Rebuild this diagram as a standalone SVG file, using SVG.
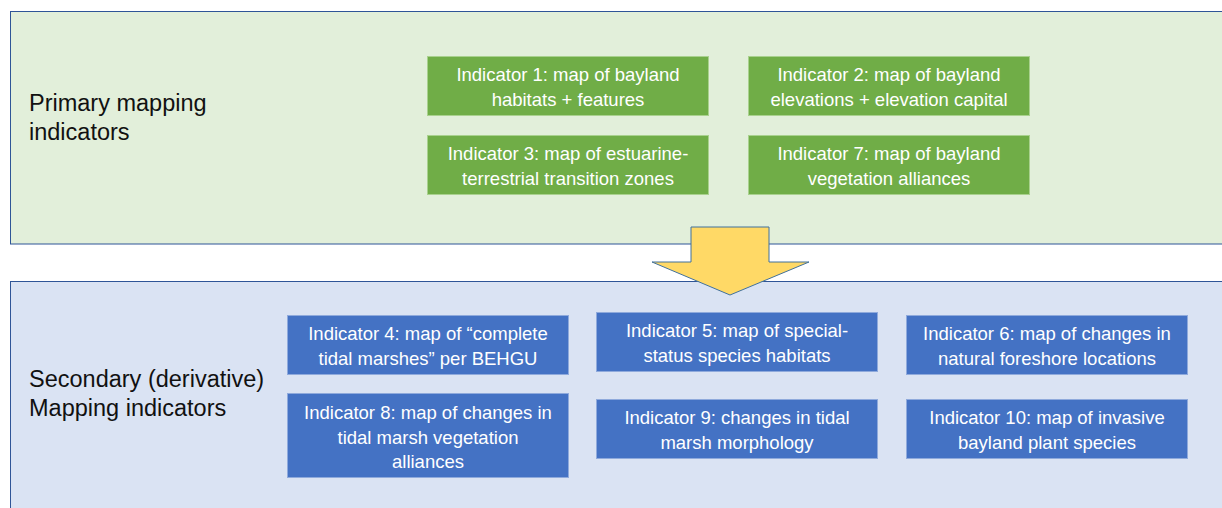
<svg xmlns="http://www.w3.org/2000/svg" width="1222" height="508" viewBox="0 0 1222 508">
<style>
.panel-g{fill:#E2EFDA;stroke:#2F5597;stroke-width:1}
.panel-b{fill:#DAE3F3;stroke:#2F5597;stroke-width:1}
.gbox{fill:#70AD47;stroke:#A9D18E;stroke-width:1}
.bbox{fill:#4472C4;stroke:#8FAADC;stroke-width:1}
.t{font-family:"Liberation Sans",Arial,sans-serif;font-size:18.5px;fill:#FFFFFF;text-anchor:middle}
.h{font-family:"Liberation Sans",Arial,sans-serif;font-size:23.5px;fill:#111111}
</style>
<rect width="1222" height="508" fill="#FFFFFF"/>
<g id="primary-panel">
<rect class="panel-g" x="10.5" y="11.5" width="1214" height="232.5"/>
<text class="h" x="29" y="111">Primary mapping</text>
<text class="h" x="29" y="140">indicators</text>
</g>
<g id="secondary-panel">
<rect class="panel-b" x="10.5" y="281.5" width="1214" height="230"/>
<text class="h" x="29" y="387">Secondary (derivative)</text>
<text class="h" x="29" y="416">Mapping indicators</text>
</g>
<g id="ind1"><rect class="gbox" x="427.5" y="56.5" width="281" height="59"/><text class="t" x="568" y="81">Indicator 1: map of bayland</text><text class="t" x="568" y="106">habitats + features</text></g>
<g id="ind2"><rect class="gbox" x="748.5" y="56.5" width="281" height="59"/><text class="t" x="889" y="81">Indicator 2: map of bayland</text><text class="t" x="889" y="106">elevations + elevation capital</text></g>
<g id="ind3"><rect class="gbox" x="427.5" y="135.5" width="281" height="59"/><text class="t" x="568" y="160">Indicator 3: map of estuarine-</text><text class="t" x="568" y="185">terrestrial transition zones</text></g>
<g id="ind7"><rect class="gbox" x="748.5" y="135.5" width="281" height="59"/><text class="t" x="889" y="160">Indicator 7: map of bayland</text><text class="t" x="889" y="185">vegetation alliances</text></g>
<g id="connectors">
<path d="M691,227 H769 V262 H809 L730,295 L652,262 H691 Z" fill="#FFD966" stroke="#41719C" stroke-width="1"/>
</g>
<g id="ind4"><rect class="bbox" x="287.5" y="315.5" width="281" height="59"/><text class="t" x="428" y="340">Indicator 4: map of “complete</text><text class="t" x="428" y="365">tidal marshes” per BEHGU</text></g>
<g id="ind8"><rect class="bbox" x="287.5" y="393.5" width="281" height="84"/><text class="t" x="428" y="419">Indicator 8: map of changes in</text><text class="t" x="428" y="444">tidal marsh vegetation</text><text class="t" x="428" y="468">alliances</text></g>
<g id="ind5"><rect class="bbox" x="596.5" y="312.5" width="281" height="59"/><text class="t" x="737" y="337">Indicator 5: map of special-</text><text class="t" x="737" y="362">status species habitats</text></g>
<g id="ind9"><rect class="bbox" x="596.5" y="399.5" width="281" height="59"/><text class="t" x="737" y="424">Indicator 9: changes in tidal</text><text class="t" x="737" y="449">marsh morphology</text></g>
<g id="ind6"><rect class="bbox" x="906.5" y="315.5" width="281" height="59"/><text class="t" x="1047" y="340">Indicator 6: map of changes in</text><text class="t" x="1047" y="365">natural foreshore locations</text></g>
<g id="ind10"><rect class="bbox" x="906.5" y="399.5" width="281" height="59"/><text class="t" x="1047" y="424">Indicator 10: map of invasive</text><text class="t" x="1047" y="449">bayland plant species</text></g>
</svg>
